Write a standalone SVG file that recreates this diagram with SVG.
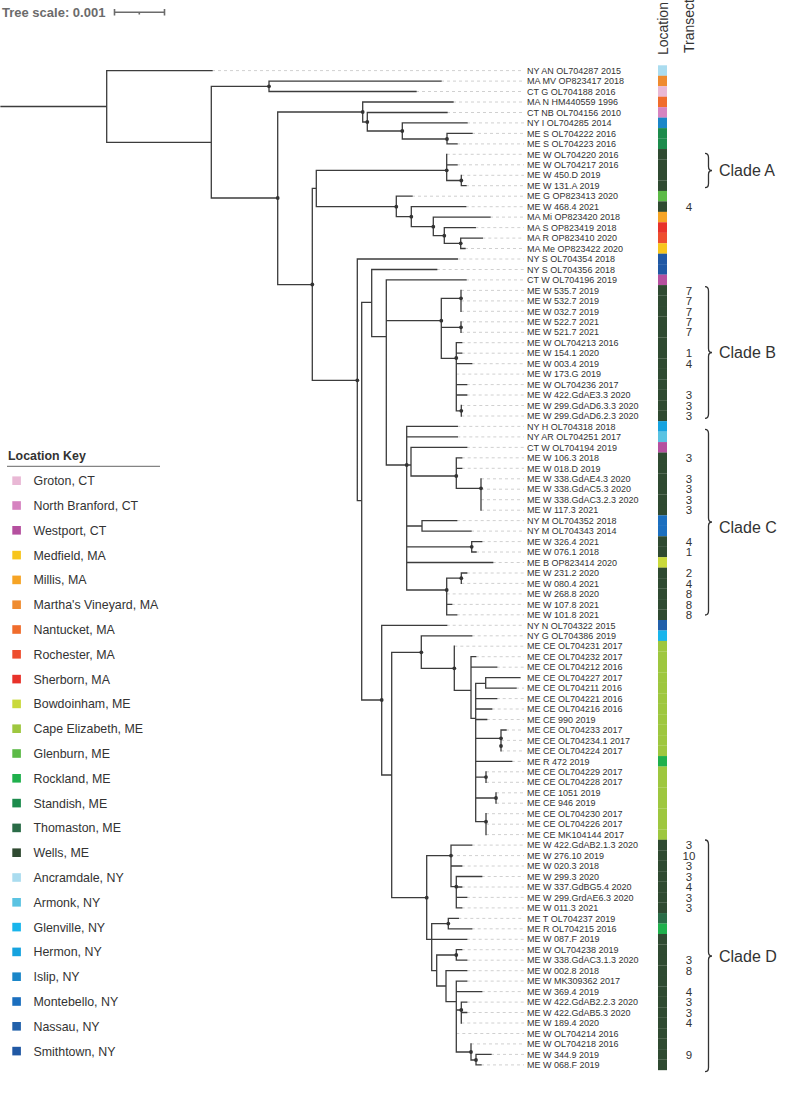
<svg xmlns="http://www.w3.org/2000/svg" width="785" height="1094" viewBox="0 0 785 1094">
<style>
.lb{font:9px "Liberation Sans",Arial,sans-serif;fill:#333}
.tr{font:11.5px "Liberation Sans",Arial,sans-serif;fill:#333;text-anchor:middle}
.hd{font:14px "Liberation Sans",Arial,sans-serif;fill:#333}
.br{fill:none;stroke:#3c3c3c;stroke-width:1.3;stroke-linecap:square}
.ld{fill:none;stroke:#c4c4c4;stroke-width:0.8;stroke-dasharray:3 3}
.dot{fill:#333}
.brace{fill:none;stroke:#333;stroke-width:1.3}
.cl{font:16px "Liberation Sans",Arial,sans-serif;fill:#333}
.kt{font:12.4px "Liberation Sans",Arial,sans-serif;fill:#333}
.kh{font:bold 12.4px "Liberation Sans",Arial,sans-serif;fill:#333}
.ts{font:bold 13px "Liberation Sans",Arial,sans-serif;fill:#6b6b6b}
.gro{fill:#e9b8d5}.nbr{fill:#d683c0}.wes{fill:#b5509f}.med{fill:#f7c51c}.mil{fill:#f6a425}.mv{fill:#ef8b2f}.nan{fill:#f06c2c}.roc{fill:#ee4e2e}.she{fill:#e8322a}.bow{fill:#c9d93b}.ce{fill:#9ec73f}.gle{fill:#5cba47}.rkl{fill:#1fb04c}.sta{fill:#1c8b4c}.tho{fill:#2a6c47}.wel{fill:#2f4a31}.anc{fill:#aadcef}.arm{fill:#5ac3e2}.glv{fill:#19b5ec}.her{fill:#16a3df}.isl{fill:#1a86c8}.mon{fill:#1b6fbf}.nas{fill:#2160aa}.smi{fill:#2058a4}
</style>
<defs>
<rect id="bar" x="658" y="-5.3" width="9" height="10.6"/>
</defs>

<g id="tree-scale">
<text class="ts" x="2" y="16.5">Tree scale: 0.001</text>
<path d="M114 12.3H165M114.5 9V15.5M164.5 9V15.5M139.3 12.3V14.6" fill="none" stroke="#6b6b6b" stroke-width="1.6"/>
</g>

<g id="headers">
<text class="hd" transform="translate(668 55) rotate(-90)">Location</text>
<text class="hd" transform="translate(694 53) rotate(-90)">Transect</text>
</g>

<g id="connectors">
<path class="ld" d="M212 70.6H524M441 81.1H524M416 91.5H524M453 102H524M447 112.5H524M467 122.9H524M472 133.4H524M457 143.9H524M446.7 154.3H524M457 164.8H524M461.3 175.3H524M466 185.7H524M412 196.2H524M465.7 206.7H524M490 217.1H524M475.3 227.6H524M482.3 238.1H524M465 248.5H524M457.3 259H524M436.7 269.5H524M466 279.9H524M461 290.4H524M461 300.9H524M461 311.3H524M461 321.8H524M461 332.3H524M461.7 342.7H524M461.7 353.2H524M471.7 363.7H524M456.3 374.1H524M466.7 384.6H524M466.7 395H524M461.3 405.5H524M461.3 416H524M457.3 426.4H524M457.3 436.9H524M466.7 447.4H524M461.7 457.8H524M461.7 468.3H524M481 478.8H524M481 489.2H524M481 499.7H524M481 510.2H524M456.7 520.6H524M471 531.1H524M481.7 541.6H524M476 552H524M492.7 562.5H524M466.7 573H524M461.3 583.4H524M446.7 593.9H524M451.7 604.4H524M456.7 614.8H524M446.7 625.3H524M471.7 635.8H524M454.3 646.2H524M475.7 656.7H524M496.7 667.2H524M516 688.1H524M496.7 698.6H524M491.7 709H524M486.7 719.5H524M506 730H524M501 740.4H524M501 750.9H524M511.7 761.4H524M486 771.8H524M486 782.3H524M496 792.8H524M496 803.2H524M486 813.7H524M486 824.2H524M486 834.6H524M471.7 845.1H524M451 855.6H524M461.7 866H524M481.7 876.5H524M461.7 887H524M466.7 897.4H524M461.7 907.9H524M458.3 918.4H524M471.7 928.8H524M466.7 939.3H524M461.7 949.7H524M466.7 960.2H524M466.7 970.7H524M466.7 981.1H524M481.7 991.6H524M466.7 1002.1H524M466.7 1012.5H524M461.3 1023H524M456.3 1033.5H524M471 1043.9H524M491 1054.4H524M481 1064.9H524"/>
<path class="br" d="M1 106.5H106.7M106.7 70.6V142.3M106.7 70.6H212M106.7 142.3H211.3M211.3 86.3V198M211.3 86.3H269M269 81.1V91.5M269 81.1H441M269 91.5H416M211.3 198H277.7M277.7 112V284.7
M277.7 112H362.7M362.7 102V122M362.7 102H453M362.7 122H367.3M367.3 112.5V131M367.3 112.5H447M367.3 131H402.3M402.3 122.9V139M402.3 122.9H467M402.3 139H447M447 133.4V143.9M447 133.4H472M447 143.9H457
M277.7 284.7H312.3M312.3 188.3V380.3M312.3 188.3H316.3M316.3 170.3V206.7
M316.3 170.3H446.7M446.7 154.3V180.5M446.7 164.8H457M446.7 180.5H461.3M461.3 175.3V185.7M461.3 185.7H466
M316.3 206.7H396.3M396.3 196.2V216.7M396.3 196.2H412M396.3 216.7H411.3M411.3 206.7V226.7M411.3 206.7H465.7M411.3 226.7H433.3M433.3 217.1V235.7M433.3 217.1H490M433.3 235.7H444.3M444.3 227.6V243.3M444.3 227.6H475.3M444.3 243.3H460.7M460.7 238.1V248.5M460.7 238.1H482.3M460.7 248.5H465
M312.3 380.3H357.3M357.3 259V500.7M357.3 259H457.3M357.3 500.7H361.7M361.7 302.3V700M361.7 302.3H371.7M371.7 269.5V336.7M371.7 269.5H436.7M371.7 336.7H386.3M386.3 279.9V465M386.3 279.9H466
M386.3 320.7H441.3M441.3 298.3V358.3M441.3 298.3H461M461 290.4V311.3M441.3 327.3H461M461 321.8V332.3M441.3 358.3H456.3M456.3 342.7V410.8M456.3 342.7H461.7M456.3 353.2H461.7M456.3 363.7H471.7M456.3 384.6H466.7M456.3 395H466.7M456.3 410.8H461.3M461.3 405.5V416
M386.3 465H411M406.7 426.4V590M406.7 426.4H457.3M406.7 436.9H457.3M411 447.4V476M411 447.4H466.7M411 476H456.3M456.3 457.8V488.3M456.3 457.8H461.7M456.3 468.3H461.7M456.3 488.3H481M481 478.8V510.2M406.7 526H422M422 520.6V531.1M422 520.6H456.7M422 531.1H471M406.7 546.8H471.7M471.7 541.6V552M471.7 541.6H481.7M471.7 552H476M406.7 562.5H492.7M406.7 590H446.7M446.7 578.2V614.8M446.7 578.2H461.3M461.3 573V583.4M461.3 573H466.7M446.7 604.4H451.7M446.7 614.8H456.7
M361.7 700H381.7M381.7 625.3V775M381.7 625.3H446.7M381.7 775H391.7M391.7 652.3V897.7M391.7 652.3H421.3M421.3 635.8V668.3M421.3 635.8H471.7M421.3 668.3H454.3M454.3 646.2V690.3M454.3 690.3H471M471 656.7V718.3M471 656.7H475.7M471 667.2H496.7M471 718.3H475.7M475.7 683.3V821.7M475.7 683.3H485.7M485.7 677.6V688.1M485.7 677.6H520M485.7 688.1H516M475.7 698.6H496.7M475.7 709H491.7M475.7 719.5H486.7M475.7 738.3H501M501 730V750.9M501 730H506M475.7 761.4H511.7M475.7 777.1H486M486 771.8V782.3M475.7 798H496M496 792.8V803.2M475.7 821.7H486M486 813.7V834.6
M391.7 897.7H426.7M426.7 855.6V939.3M426.7 855.6H451M451 845.1V886.7M451 845.1H471.7M451 866H461.7M451 886.7H456.3M456.3 876.5V907.9M456.3 876.5H481.7M456.3 887H461.7M456.3 897.4H466.7M456.3 907.9H461.7M426.7 939.3H466.7M431.7 923.6V970.7M431.7 923.6H448.3M448.3 918.4V928.8M448.3 918.4H458.3M448.3 928.8H471.7M431.7 970.7H436.7M436.7 955V986M436.7 955H456.3M456.3 949.7V960.2M456.3 949.7H461.7M456.3 960.2H466.7M436.7 986H446M446 970.7V1001.7M446 970.7H466.7M446 1001.7H456.3M456.3 981.1V1052M456.3 981.1H466.7M456.3 991.6H481.7M456.3 1010H461.3M461.3 1002.1V1023M461.3 1002.1H466.7M461.3 1012.5H466.7M456.3 1052H471M471 1043.9V1060M471 1060H476M476 1054.4V1064.9M476 1054.4H491M476 1064.9H481"/>
<g class="dot">
<circle cx="269" cy="86.3" r="1.9"/><circle cx="277.7" cy="198" r="1.9"/><circle cx="362.7" cy="112" r="1.9"/><circle cx="367.3" cy="122" r="1.9"/><circle cx="402.3" cy="131" r="1.9"/><circle cx="447" cy="139" r="1.9"/><circle cx="312.3" cy="284.5" r="1.9"/><circle cx="446.7" cy="170.3" r="1.9"/><circle cx="461.3" cy="180.5" r="1.9"/><circle cx="396.3" cy="206.7" r="1.9"/><circle cx="411.3" cy="216.7" r="1.9"/><circle cx="433.3" cy="226.7" r="1.9"/><circle cx="444.3" cy="235.7" r="1.9"/><circle cx="460.7" cy="243.3" r="1.9"/><circle cx="357.3" cy="380.3" r="1.9"/><circle cx="441.3" cy="320.7" r="1.9"/><circle cx="461" cy="298.3" r="1.9"/><circle cx="461" cy="327.3" r="1.9"/><circle cx="456.3" cy="358" r="1.9"/><circle cx="461.3" cy="410.8" r="1.9"/><circle cx="406.7" cy="465" r="1.9"/><circle cx="456.3" cy="476" r="1.9"/><circle cx="481" cy="488.3" r="1.9"/><circle cx="471.7" cy="546.8" r="1.9"/><circle cx="446.7" cy="590" r="1.9"/><circle cx="461.3" cy="578.2" r="1.9"/><circle cx="381.7" cy="700" r="1.9"/><circle cx="421.3" cy="652.3" r="1.9"/><circle cx="454.3" cy="668.3" r="1.9"/><circle cx="501" cy="738.3" r="1.9"/><circle cx="501" cy="746" r="1.9"/><circle cx="486" cy="777.1" r="1.9"/><circle cx="496" cy="798" r="1.9"/><circle cx="486" cy="821.7" r="1.9"/><circle cx="426.7" cy="897.7" r="1.9"/><circle cx="451" cy="855.6" r="1.9"/><circle cx="456.3" cy="886.7" r="1.9"/><circle cx="448.3" cy="923.6" r="1.9"/><circle cx="456.3" cy="955" r="1.9"/><circle cx="461.3" cy="1010" r="1.9"/><circle cx="471" cy="1052" r="1.9"/><circle cx="476" cy="1060" r="1.9"/>
</g>
</g>

<g id="leaves">
<g id="L1" transform="translate(0 70.6)"><text class="lb" x="527" y="3.2">NY AN OL704287 2015</text><use href="#bar" class="anc"/></g>
<g id="L2" transform="translate(0 81.07)"><text class="lb" x="527" y="3.2">MA MV OP823417 2018</text><use href="#bar" class="mv"/></g>
<g id="L3" transform="translate(0 91.53)"><text class="lb" x="527" y="3.2">CT G OL704188 2016</text><use href="#bar" class="gro"/></g>
<g id="L4" transform="translate(0 102)"><text class="lb" x="527" y="3.2">MA N HM440559 1996</text><use href="#bar" class="nan"/></g>
<g id="L5" transform="translate(0 112.46)"><text class="lb" x="527" y="3.2">CT NB OL704156 2010</text><use href="#bar" class="nbr"/></g>
<g id="L6" transform="translate(0 122.93)"><text class="lb" x="527" y="3.2">NY I OL704285 2014</text><use href="#bar" class="isl"/></g>
<g id="L7" transform="translate(0 133.4)"><text class="lb" x="527" y="3.2">ME S OL704222 2016</text><use href="#bar" class="sta"/></g>
<g id="L8" transform="translate(0 143.86)"><text class="lb" x="527" y="3.2">ME S OL704223 2016</text><use href="#bar" class="sta"/></g>
<g id="L9" transform="translate(0 154.33)"><text class="lb" x="527" y="3.2">ME W OL704220 2016</text><use href="#bar" class="wel"/></g>
<g id="L10" transform="translate(0 164.79)"><text class="lb" x="527" y="3.2">ME W OL704217 2016</text><use href="#bar" class="wel"/></g>
<g id="L11" transform="translate(0 175.26)"><text class="lb" x="527" y="3.2">ME W 450.D 2019</text><use href="#bar" class="wel"/></g>
<g id="L12" transform="translate(0 185.73)"><text class="lb" x="527" y="3.2">ME W 131.A 2019</text><use href="#bar" class="wel"/></g>
<g id="L13" transform="translate(0 196.19)"><text class="lb" x="527" y="3.2">ME G OP823413 2020</text><use href="#bar" class="gle"/></g>
<g id="L14" transform="translate(0 206.66)"><text class="lb" x="527" y="3.2">ME W 468.4 2021</text><use href="#bar" class="wel"/><text class="tr" x="689" y="4.2">4</text></g>
<g id="L15" transform="translate(0 217.12)"><text class="lb" x="527" y="3.2">MA Mi OP823420 2018</text><use href="#bar" class="mil"/></g>
<g id="L16" transform="translate(0 227.59)"><text class="lb" x="527" y="3.2">MA S OP823419 2018</text><use href="#bar" class="she"/></g>
<g id="L17" transform="translate(0 238.06)"><text class="lb" x="527" y="3.2">MA R OP823410 2020</text><use href="#bar" class="roc"/></g>
<g id="L18" transform="translate(0 248.52)"><text class="lb" x="527" y="3.2">MA Me OP823422 2020</text><use href="#bar" class="med"/></g>
<g id="L19" transform="translate(0 258.99)"><text class="lb" x="527" y="3.2">NY S OL704354 2018</text><use href="#bar" class="smi"/></g>
<g id="L20" transform="translate(0 269.45)"><text class="lb" x="527" y="3.2">NY S OL704356 2018</text><use href="#bar" class="smi"/></g>
<g id="L21" transform="translate(0 279.92)"><text class="lb" x="527" y="3.2">CT W OL704196 2019</text><use href="#bar" class="wes"/></g>
<g id="L22" transform="translate(0 290.39)"><text class="lb" x="527" y="3.2">ME W 535.7 2019</text><use href="#bar" class="wel"/><text class="tr" x="689" y="4.2">7</text></g>
<g id="L23" transform="translate(0 300.85)"><text class="lb" x="527" y="3.2">ME W 532.7 2019</text><use href="#bar" class="wel"/><text class="tr" x="689" y="4.2">7</text></g>
<g id="L24" transform="translate(0 311.32)"><text class="lb" x="527" y="3.2">ME W 032.7 2019</text><use href="#bar" class="wel"/><text class="tr" x="689" y="4.2">7</text></g>
<g id="L25" transform="translate(0 321.78)"><text class="lb" x="527" y="3.2">ME W 522.7 2021</text><use href="#bar" class="wel"/><text class="tr" x="689" y="4.2">7</text></g>
<g id="L26" transform="translate(0 332.25)"><text class="lb" x="527" y="3.2">ME W 521.7 2021</text><use href="#bar" class="wel"/><text class="tr" x="689" y="4.2">7</text></g>
<g id="L27" transform="translate(0 342.72)"><text class="lb" x="527" y="3.2">ME W OL704213 2016</text><use href="#bar" class="wel"/></g>
<g id="L28" transform="translate(0 353.18)"><text class="lb" x="527" y="3.2">ME W 154.1 2020</text><use href="#bar" class="wel"/><text class="tr" x="689" y="4.2">1</text></g>
<g id="L29" transform="translate(0 363.65)"><text class="lb" x="527" y="3.2">ME W 003.4 2019</text><use href="#bar" class="wel"/><text class="tr" x="689" y="4.2">4</text></g>
<g id="L30" transform="translate(0 374.11)"><text class="lb" x="527" y="3.2">ME W 173.G 2019</text><use href="#bar" class="wel"/></g>
<g id="L31" transform="translate(0 384.58)"><text class="lb" x="527" y="3.2">ME W OL704236 2017</text><use href="#bar" class="wel"/></g>
<g id="L32" transform="translate(0 395.05)"><text class="lb" x="527" y="3.2">ME W 422.GdAE3.3 2020</text><use href="#bar" class="wel"/><text class="tr" x="689" y="4.2">3</text></g>
<g id="L33" transform="translate(0 405.51)"><text class="lb" x="527" y="3.2">ME W 299.GdAD6.3.3 2020</text><use href="#bar" class="wel"/><text class="tr" x="689" y="4.2">3</text></g>
<g id="L34" transform="translate(0 415.98)"><text class="lb" x="527" y="3.2">ME W 299.GdAD6.2.3 2020</text><use href="#bar" class="wel"/><text class="tr" x="689" y="4.2">3</text></g>
<g id="L35" transform="translate(0 426.44)"><text class="lb" x="527" y="3.2">NY H OL704318 2018</text><use href="#bar" class="her"/></g>
<g id="L36" transform="translate(0 436.91)"><text class="lb" x="527" y="3.2">NY AR OL704251 2017</text><use href="#bar" class="arm"/></g>
<g id="L37" transform="translate(0 447.38)"><text class="lb" x="527" y="3.2">CT W OL704194 2019</text><use href="#bar" class="wes"/></g>
<g id="L38" transform="translate(0 457.84)"><text class="lb" x="527" y="3.2">ME W 106.3 2018</text><use href="#bar" class="wel"/><text class="tr" x="689" y="4.2">3</text></g>
<g id="L39" transform="translate(0 468.31)"><text class="lb" x="527" y="3.2">ME W 018.D 2019</text><use href="#bar" class="wel"/></g>
<g id="L40" transform="translate(0 478.77)"><text class="lb" x="527" y="3.2">ME W 338.GdAE4.3 2020</text><use href="#bar" class="wel"/><text class="tr" x="689" y="4.2">3</text></g>
<g id="L41" transform="translate(0 489.24)"><text class="lb" x="527" y="3.2">ME W 338.GdAC5.3 2020</text><use href="#bar" class="wel"/><text class="tr" x="689" y="4.2">3</text></g>
<g id="L42" transform="translate(0 499.71)"><text class="lb" x="527" y="3.2">ME W 338.GdAC3.2.3 2020</text><use href="#bar" class="wel"/><text class="tr" x="689" y="4.2">3</text></g>
<g id="L43" transform="translate(0 510.17)"><text class="lb" x="527" y="3.2">ME W 117.3 2021</text><use href="#bar" class="wel"/><text class="tr" x="689" y="4.2">3</text></g>
<g id="L44" transform="translate(0 520.64)"><text class="lb" x="527" y="3.2">NY M OL704352 2018</text><use href="#bar" class="mon"/></g>
<g id="L45" transform="translate(0 531.1)"><text class="lb" x="527" y="3.2">NY M OL704343 2014</text><use href="#bar" class="mon"/></g>
<g id="L46" transform="translate(0 541.57)"><text class="lb" x="527" y="3.2">ME W 326.4 2021</text><use href="#bar" class="wel"/><text class="tr" x="689" y="4.2">4</text></g>
<g id="L47" transform="translate(0 552.04)"><text class="lb" x="527" y="3.2">ME W 076.1 2018</text><use href="#bar" class="wel"/><text class="tr" x="689" y="4.2">1</text></g>
<g id="L48" transform="translate(0 562.5)"><text class="lb" x="527" y="3.2">ME B OP823414 2020</text><use href="#bar" class="bow"/></g>
<g id="L49" transform="translate(0 572.97)"><text class="lb" x="527" y="3.2">ME W 231.2 2020</text><use href="#bar" class="wel"/><text class="tr" x="689" y="4.2">2</text></g>
<g id="L50" transform="translate(0 583.43)"><text class="lb" x="527" y="3.2">ME W 080.4 2021</text><use href="#bar" class="wel"/><text class="tr" x="689" y="4.2">4</text></g>
<g id="L51" transform="translate(0 593.9)"><text class="lb" x="527" y="3.2">ME W 268.8 2020</text><use href="#bar" class="wel"/><text class="tr" x="689" y="4.2">8</text></g>
<g id="L52" transform="translate(0 604.37)"><text class="lb" x="527" y="3.2">ME W 107.8 2021</text><use href="#bar" class="wel"/><text class="tr" x="689" y="4.2">8</text></g>
<g id="L53" transform="translate(0 614.83)"><text class="lb" x="527" y="3.2">ME W 101.8 2021</text><use href="#bar" class="wel"/><text class="tr" x="689" y="4.2">8</text></g>
<g id="L54" transform="translate(0 625.3)"><text class="lb" x="527" y="3.2">NY N OL704322 2015</text><use href="#bar" class="nas"/></g>
<g id="L55" transform="translate(0 635.76)"><text class="lb" x="527" y="3.2">NY G OL704386 2019</text><use href="#bar" class="glv"/></g>
<g id="L56" transform="translate(0 646.23)"><text class="lb" x="527" y="3.2">ME CE OL704231 2017</text><use href="#bar" class="ce"/></g>
<g id="L57" transform="translate(0 656.7)"><text class="lb" x="527" y="3.2">ME CE OL704232 2017</text><use href="#bar" class="ce"/></g>
<g id="L58" transform="translate(0 667.16)"><text class="lb" x="527" y="3.2">ME CE OL704212 2016</text><use href="#bar" class="ce"/></g>
<g id="L59" transform="translate(0 677.63)"><text class="lb" x="527" y="3.2">ME CE OL704227 2017</text><use href="#bar" class="ce"/></g>
<g id="L60" transform="translate(0 688.09)"><text class="lb" x="527" y="3.2">ME CE OL704211 2016</text><use href="#bar" class="ce"/></g>
<g id="L61" transform="translate(0 698.56)"><text class="lb" x="527" y="3.2">ME CE OL704221 2016</text><use href="#bar" class="ce"/></g>
<g id="L62" transform="translate(0 709.03)"><text class="lb" x="527" y="3.2">ME CE OL704216 2016</text><use href="#bar" class="ce"/></g>
<g id="L63" transform="translate(0 719.49)"><text class="lb" x="527" y="3.2">ME CE 990 2019</text><use href="#bar" class="ce"/></g>
<g id="L64" transform="translate(0 729.96)"><text class="lb" x="527" y="3.2">ME CE OL704233 2017</text><use href="#bar" class="ce"/></g>
<g id="L65" transform="translate(0 740.42)"><text class="lb" x="527" y="3.2">ME CE OL704234.1 2017</text><use href="#bar" class="ce"/></g>
<g id="L66" transform="translate(0 750.89)"><text class="lb" x="527" y="3.2">ME CE OL704224 2017</text><use href="#bar" class="ce"/></g>
<g id="L67" transform="translate(0 761.36)"><text class="lb" x="527" y="3.2">ME R 472 2019</text><use href="#bar" class="rkl"/></g>
<g id="L68" transform="translate(0 771.82)"><text class="lb" x="527" y="3.2">ME CE OL704229 2017</text><use href="#bar" class="ce"/></g>
<g id="L69" transform="translate(0 782.29)"><text class="lb" x="527" y="3.2">ME CE OL704228 2017</text><use href="#bar" class="ce"/></g>
<g id="L70" transform="translate(0 792.75)"><text class="lb" x="527" y="3.2">ME CE 1051 2019</text><use href="#bar" class="ce"/></g>
<g id="L71" transform="translate(0 803.22)"><text class="lb" x="527" y="3.2">ME CE 946 2019</text><use href="#bar" class="ce"/></g>
<g id="L72" transform="translate(0 813.69)"><text class="lb" x="527" y="3.2">ME CE OL704230 2017</text><use href="#bar" class="ce"/></g>
<g id="L73" transform="translate(0 824.15)"><text class="lb" x="527" y="3.2">ME CE OL704226 2017</text><use href="#bar" class="ce"/></g>
<g id="L74" transform="translate(0 834.62)"><text class="lb" x="527" y="3.2">ME CE MK104144 2017</text><use href="#bar" class="ce"/></g>
<g id="L75" transform="translate(0 845.08)"><text class="lb" x="527" y="3.2">ME W 422.GdAB2.1.3 2020</text><use href="#bar" class="wel"/><text class="tr" x="689" y="4.2">3</text></g>
<g id="L76" transform="translate(0 855.55)"><text class="lb" x="527" y="3.2">ME W 276.10 2019</text><use href="#bar" class="wel"/><text class="tr" x="689" y="4.2">10</text></g>
<g id="L77" transform="translate(0 866.02)"><text class="lb" x="527" y="3.2">ME W 020.3 2018</text><use href="#bar" class="wel"/><text class="tr" x="689" y="4.2">3</text></g>
<g id="L78" transform="translate(0 876.48)"><text class="lb" x="527" y="3.2">ME W 299.3 2020</text><use href="#bar" class="wel"/><text class="tr" x="689" y="4.2">3</text></g>
<g id="L79" transform="translate(0 886.95)"><text class="lb" x="527" y="3.2">ME W 337.GdBG5.4 2020</text><use href="#bar" class="wel"/><text class="tr" x="689" y="4.2">4</text></g>
<g id="L80" transform="translate(0 897.41)"><text class="lb" x="527" y="3.2">ME W 299.GrdAE6.3 2020</text><use href="#bar" class="wel"/><text class="tr" x="689" y="4.2">3</text></g>
<g id="L81" transform="translate(0 907.88)"><text class="lb" x="527" y="3.2">ME W 011.3 2021</text><use href="#bar" class="wel"/><text class="tr" x="689" y="4.2">3</text></g>
<g id="L82" transform="translate(0 918.35)"><text class="lb" x="527" y="3.2">ME T OL704237 2019</text><use href="#bar" class="tho"/></g>
<g id="L83" transform="translate(0 928.81)"><text class="lb" x="527" y="3.2">ME R OL704215 2016</text><use href="#bar" class="rkl"/></g>
<g id="L84" transform="translate(0 939.28)"><text class="lb" x="527" y="3.2">ME W 087.F 2019</text><use href="#bar" class="wel"/></g>
<g id="L85" transform="translate(0 949.74)"><text class="lb" x="527" y="3.2">ME W OL704238 2019</text><use href="#bar" class="wel"/></g>
<g id="L86" transform="translate(0 960.21)"><text class="lb" x="527" y="3.2">ME W 338.GdAC3.1.3 2020</text><use href="#bar" class="wel"/><text class="tr" x="689" y="4.2">3</text></g>
<g id="L87" transform="translate(0 970.68)"><text class="lb" x="527" y="3.2">ME W 002.8 2018</text><use href="#bar" class="wel"/><text class="tr" x="689" y="4.2">8</text></g>
<g id="L88" transform="translate(0 981.14)"><text class="lb" x="527" y="3.2">ME W MK309362 2017</text><use href="#bar" class="wel"/></g>
<g id="L89" transform="translate(0 991.61)"><text class="lb" x="527" y="3.2">ME W 369.4 2019</text><use href="#bar" class="wel"/><text class="tr" x="689" y="4.2">4</text></g>
<g id="L90" transform="translate(0 1002.07)"><text class="lb" x="527" y="3.2">ME W 422.GdAB2.2.3 2020</text><use href="#bar" class="wel"/><text class="tr" x="689" y="4.2">3</text></g>
<g id="L91" transform="translate(0 1012.54)"><text class="lb" x="527" y="3.2">ME W 422.GdAB5.3 2020</text><use href="#bar" class="wel"/><text class="tr" x="689" y="4.2">3</text></g>
<g id="L92" transform="translate(0 1023.01)"><text class="lb" x="527" y="3.2">ME W 189.4 2020</text><use href="#bar" class="wel"/><text class="tr" x="689" y="4.2">4</text></g>
<g id="L93" transform="translate(0 1033.47)"><text class="lb" x="527" y="3.2">ME W OL704214 2016</text><use href="#bar" class="wel"/></g>
<g id="L94" transform="translate(0 1043.94)"><text class="lb" x="527" y="3.2">ME W OL704218 2016</text><use href="#bar" class="wel"/></g>
<g id="L95" transform="translate(0 1054.4)"><text class="lb" x="527" y="3.2">ME W 344.9 2019</text><use href="#bar" class="wel"/><text class="tr" x="689" y="4.2">9</text></g>
<g id="L96" transform="translate(0 1064.87)"><text class="lb" x="527" y="3.2">ME W 068.F 2019</text><use href="#bar" class="wel"/></g>
</g>

<g id="clades">
<g id="clade-A"><path class="brace" d="M705 153.3Q708.5 153.3 708.5 157.5V166.5Q708.5 170.5 712 170.5Q708.5 170.5 708.5 174.5V183.5Q708.5 187.7 705 187.7"/><text class="cl" x="719" y="176.3">Clade A</text></g>
<g id="clade-B"><path class="brace" d="M705 286.7Q708.5 286.7 708.5 291V348.5Q708.5 352.5 712 352.5Q708.5 352.5 708.5 356.5V414Q708.5 418.3 705 418.3"/><text class="cl" x="719" y="358.3">Clade B</text></g>
<g id="clade-C"><path class="brace" d="M705 429.3Q708.5 429.3 708.5 433.5V518Q708.5 522 712 522Q708.5 522 708.5 526V611Q708.5 615 705 615"/><text class="cl" x="719" y="532.8">Clade C</text></g>
<g id="clade-D"><path class="brace" d="M705 840Q708.5 840 708.5 844.5V952Q708.5 956 712 956Q708.5 956 708.5 960V1067.5Q708.5 1071.7 705 1071.7"/><text class="cl" x="719" y="961.8">Clade D</text></g>
</g>

<g id="legend">
<text class="kh" x="8" y="460">Location Key</text>
<path d="M7 466.3H160" stroke="#666" stroke-width="1"/>
<g id="key-groton" transform="translate(0 480.7)"><rect class="gro" x="12.3" y="-4.3" width="8.6" height="8.6"/><text class="kt" x="33.5" y="4.4">Groton, CT</text></g>
<g id="key-northbranford" transform="translate(0 505.5)"><rect class="nbr" x="12.3" y="-4.3" width="8.6" height="8.6"/><text class="kt" x="33.5" y="4.4">North Branford, CT</text></g>
<g id="key-westport" transform="translate(0 530.3)"><rect class="wes" x="12.3" y="-4.3" width="8.6" height="8.6"/><text class="kt" x="33.5" y="4.4">Westport, CT</text></g>
<g id="key-medfield" transform="translate(0 555.1)"><rect class="med" x="12.3" y="-4.3" width="8.6" height="8.6"/><text class="kt" x="33.5" y="4.4">Medfield, MA</text></g>
<g id="key-millis" transform="translate(0 579.9)"><rect class="mil" x="12.3" y="-4.3" width="8.6" height="8.6"/><text class="kt" x="33.5" y="4.4">Millis, MA</text></g>
<g id="key-marthasvineyard" transform="translate(0 604.7)"><rect class="mv" x="12.3" y="-4.3" width="8.6" height="8.6"/><text class="kt" x="33.5" y="4.4">Martha's Vineyard, MA</text></g>
<g id="key-nantucket" transform="translate(0 629.5)"><rect class="nan" x="12.3" y="-4.3" width="8.6" height="8.6"/><text class="kt" x="33.5" y="4.4">Nantucket, MA</text></g>
<g id="key-rochester" transform="translate(0 654.3)"><rect class="roc" x="12.3" y="-4.3" width="8.6" height="8.6"/><text class="kt" x="33.5" y="4.4">Rochester, MA</text></g>
<g id="key-sherborn" transform="translate(0 679.1)"><rect class="she" x="12.3" y="-4.3" width="8.6" height="8.6"/><text class="kt" x="33.5" y="4.4">Sherborn, MA</text></g>
<g id="key-bowdoinham" transform="translate(0 703.9)"><rect class="bow" x="12.3" y="-4.3" width="8.6" height="8.6"/><text class="kt" x="33.5" y="4.4">Bowdoinham, ME</text></g>
<g id="key-capeelizabeth" transform="translate(0 728.7)"><rect class="ce" x="12.3" y="-4.3" width="8.6" height="8.6"/><text class="kt" x="33.5" y="4.4">Cape Elizabeth, ME</text></g>
<g id="key-glenburn" transform="translate(0 753.5)"><rect class="gle" x="12.3" y="-4.3" width="8.6" height="8.6"/><text class="kt" x="33.5" y="4.4">Glenburn, ME</text></g>
<g id="key-rockland" transform="translate(0 778.3)"><rect class="rkl" x="12.3" y="-4.3" width="8.6" height="8.6"/><text class="kt" x="33.5" y="4.4">Rockland, ME</text></g>
<g id="key-standish" transform="translate(0 803.1)"><rect class="sta" x="12.3" y="-4.3" width="8.6" height="8.6"/><text class="kt" x="33.5" y="4.4">Standish, ME</text></g>
<g id="key-thomaston" transform="translate(0 827.9)"><rect class="tho" x="12.3" y="-4.3" width="8.6" height="8.6"/><text class="kt" x="33.5" y="4.4">Thomaston, ME</text></g>
<g id="key-wells" transform="translate(0 852.7)"><rect class="wel" x="12.3" y="-4.3" width="8.6" height="8.6"/><text class="kt" x="33.5" y="4.4">Wells, ME</text></g>
<g id="key-ancramdale" transform="translate(0 877.5)"><rect class="anc" x="12.3" y="-4.3" width="8.6" height="8.6"/><text class="kt" x="33.5" y="4.4">Ancramdale, NY</text></g>
<g id="key-armonk" transform="translate(0 902.3)"><rect class="arm" x="12.3" y="-4.3" width="8.6" height="8.6"/><text class="kt" x="33.5" y="4.4">Armonk, NY</text></g>
<g id="key-glenville" transform="translate(0 927.1)"><rect class="glv" x="12.3" y="-4.3" width="8.6" height="8.6"/><text class="kt" x="33.5" y="4.4">Glenville, NY</text></g>
<g id="key-hermon" transform="translate(0 951.9)"><rect class="her" x="12.3" y="-4.3" width="8.6" height="8.6"/><text class="kt" x="33.5" y="4.4">Hermon, NY</text></g>
<g id="key-islip" transform="translate(0 976.7)"><rect class="isl" x="12.3" y="-4.3" width="8.6" height="8.6"/><text class="kt" x="33.5" y="4.4">Islip, NY</text></g>
<g id="key-montebello" transform="translate(0 1001.5)"><rect class="mon" x="12.3" y="-4.3" width="8.6" height="8.6"/><text class="kt" x="33.5" y="4.4">Montebello, NY</text></g>
<g id="key-nassau" transform="translate(0 1026.3)"><rect class="nas" x="12.3" y="-4.3" width="8.6" height="8.6"/><text class="kt" x="33.5" y="4.4">Nassau, NY</text></g>
<g id="key-smithtown" transform="translate(0 1051.1)"><rect class="smi" x="12.3" y="-4.3" width="8.6" height="8.6"/><text class="kt" x="33.5" y="4.4">Smithtown, NY</text></g>
</g>
</svg>
